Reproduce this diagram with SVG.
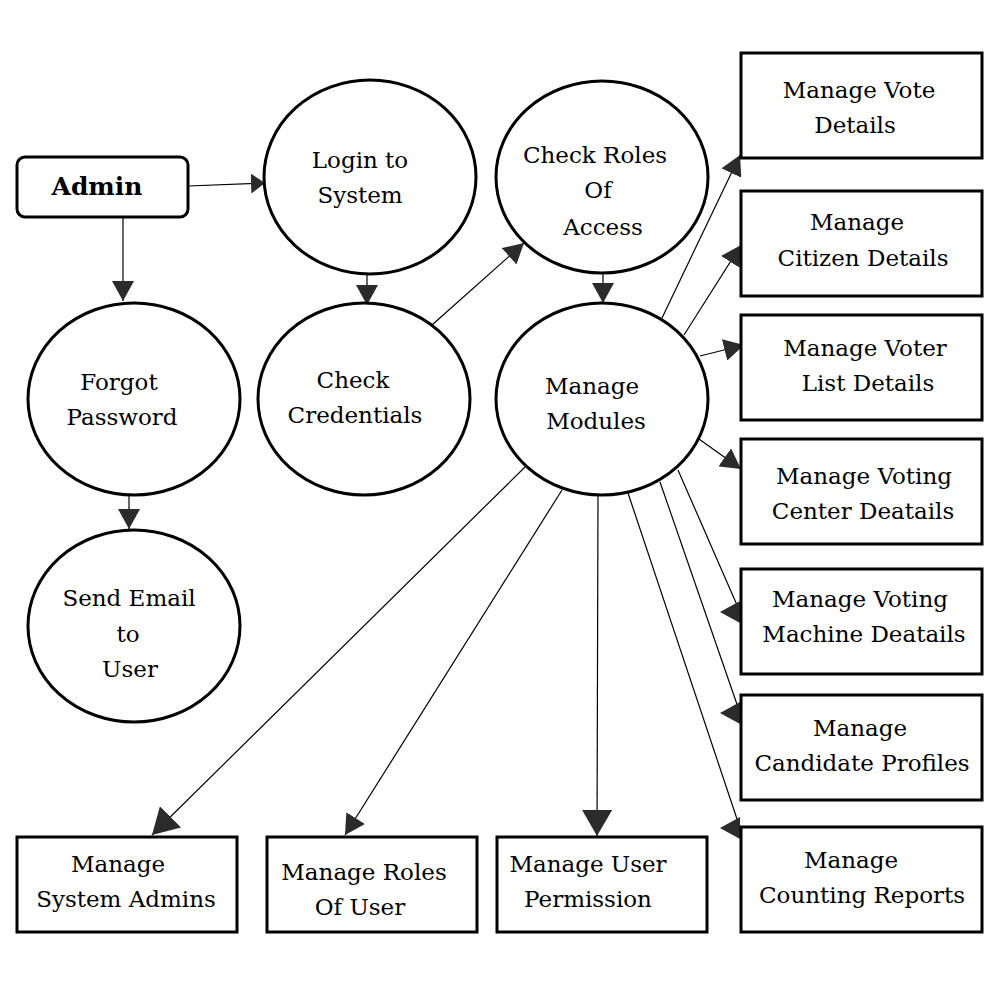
<svg xmlns="http://www.w3.org/2000/svg" width="1000" height="1000" viewBox="0 0 1000 1000">
<style>
.n{fill:#fff;stroke:#000;stroke-width:3}
.t{font-family:"DejaVu Serif","Liberation Serif",serif;font-size:23px;fill:#000;text-anchor:middle}
.b{font-weight:bold;font-size:25px}
.c{stroke:#000;stroke-width:1.2;fill:none}
</style>
<defs>
<marker id="a" markerUnits="userSpaceOnUse" markerWidth="20" markerHeight="22" viewBox="0 0 20 22" refX="20" refY="11" orient="auto"><path d="M0,0 L20,11 L0,22 z" fill="#2b2b2b"/></marker>
<marker id="s" markerUnits="userSpaceOnUse" markerWidth="14" markerHeight="20" viewBox="0 0 14 20" refX="14" refY="10" orient="auto"><path d="M0,0 L14,10 L0,20 z" fill="#2b2b2b"/></marker>
<marker id="g" markerUnits="userSpaceOnUse" markerWidth="26" markerHeight="30" viewBox="0 0 26 30" refX="26" refY="15" orient="auto"><path d="M0,0 L26,15 L0,30 z" fill="#2b2b2b"/></marker>
<marker id="l" markerUnits="userSpaceOnUse" markerWidth="20" markerHeight="22" viewBox="0 0 20 22" refX="0" refY="11" orient="180"><path d="M0,0 L20,11 L0,22 z" fill="#2b2b2b"/></marker>
</defs>
<rect width="1000" height="1000" fill="#fff"/>
<g id="connectors">
<line class="c" x1="188" y1="186" x2="265" y2="183" marker-end="url(#s)"/>
<line class="c" x1="123" y1="217" x2="123" y2="301" marker-end="url(#a)"/>
<line class="c" x1="367" y1="274" x2="367" y2="305" marker-end="url(#a)"/>
<line class="c" x1="432" y1="325" x2="524" y2="243" marker-end="url(#a)"/>
<line class="c" x1="603" y1="273" x2="603" y2="303" marker-end="url(#a)"/>
<line class="c" x1="129" y1="495" x2="129" y2="529" marker-end="url(#a)"/>
<line class="c" x1="662" y1="318" x2="740" y2="155" marker-end="url(#a)"/>
<line class="c" x1="684" y1="335" x2="741" y2="245" marker-end="url(#a)"/>
<line class="c" x1="700" y1="356" x2="744" y2="345" marker-end="url(#a)"/>
<line class="c" x1="699" y1="439" x2="741" y2="469" marker-end="url(#a)"/>
<line class="c" x1="678" y1="470" x2="740" y2="612" marker-end="url(#l)"/>
<line class="c" x1="660" y1="482" x2="740" y2="713" marker-end="url(#l)"/>
<line class="c" x1="628" y1="493" x2="740" y2="828" marker-end="url(#l)"/>
<line class="c" x1="525" y1="467" x2="152" y2="835" marker-end="url(#g)"/>
<line class="c" x1="562" y1="490" x2="345" y2="835" marker-end="url(#a)"/>
<line class="c" x1="598" y1="495" x2="597" y2="836" marker-end="url(#g)"/>
</g>
<g id="admin"><rect class="n" x="17" y="157" width="171" height="60" rx="8"/><text class="t b" x="97" y="195">Admin</text></g>
<g id="login"><ellipse class="n" cx="370" cy="177" rx="106" ry="97"/><text class="t" x="360" y="168">Login to</text><text class="t" x="360" y="203">System</text></g>
<g id="checkroles"><ellipse class="n" cx="602" cy="177" rx="106" ry="96"/><text class="t" x="595" y="163">Check Roles</text><text class="t" x="598" y="198">Of</text><text class="t" x="603" y="235">Access</text></g>
<g id="forgot"><ellipse class="n" cx="134" cy="399" rx="106" ry="96"/><text class="t" x="119" y="390">Forgot</text><text class="t" x="122" y="425">Password</text></g>
<g id="checkcred"><ellipse class="n" cx="364" cy="399" rx="106" ry="96"/><text class="t" x="353" y="388">Check</text><text class="t" x="355" y="423">Credentials</text></g>
<g id="modules"><ellipse class="n" cx="602" cy="399" rx="106" ry="96"/><text class="t" x="592" y="394">Manage</text><text class="t" x="596" y="429">Modules</text></g>
<g id="sendemail"><ellipse class="n" cx="134" cy="626" rx="106" ry="96"/><text class="t" x="129" y="606">Send Email</text><text class="t" x="128" y="642">to</text><text class="t" x="130" y="677">User</text></g>
<g id="vote"><rect class="n" x="741" y="53" width="241" height="105"/><text class="t" x="859" y="98">Manage Vote</text><text class="t" x="855" y="133">Details</text></g>
<g id="citizen"><rect class="n" x="741" y="191" width="241" height="105"/><text class="t" x="857" y="230">Manage</text><text class="t" x="863" y="266">Citizen Details</text></g>
<g id="voterlist"><rect class="n" x="741" y="315" width="241" height="105"/><text class="t" x="865" y="356">Manage Voter</text><text class="t" x="868" y="391">List Details</text></g>
<g id="center"><rect class="n" x="741" y="439" width="241" height="105"/><text class="t" x="864" y="484">Manage Voting</text><text class="t" x="863" y="519">Center Deatails</text></g>
<g id="machine"><rect class="n" x="741" y="569" width="241" height="105"/><text class="t" x="860" y="607">Manage Voting</text><text class="t" x="864" y="642">Machine Deatails</text></g>
<g id="candidate"><rect class="n" x="741" y="695" width="241" height="105"/><text class="t" x="860" y="736">Manage</text><text class="t" x="862" y="771">Candidate Profiles</text></g>
<g id="counting"><rect class="n" x="741" y="827" width="241" height="105"/><text class="t" x="851" y="868">Manage</text><text class="t" x="862" y="903">Counting Reports</text></g>
<g id="sysadmins"><rect class="n" x="17" y="837" width="220" height="95"/><text class="t" x="118" y="872">Manage</text><text class="t" x="126" y="907">System Admins</text></g>
<g id="roles"><rect class="n" x="267" y="837" width="210" height="95"/><text class="t" x="364" y="880">Manage Roles</text><text class="t" x="360" y="915">Of User</text></g>
<g id="permission"><rect class="n" x="497" y="837" width="210" height="95"/><text class="t" x="588" y="872">Manage User</text><text class="t" x="588" y="907">Permission</text></g>
</svg>
